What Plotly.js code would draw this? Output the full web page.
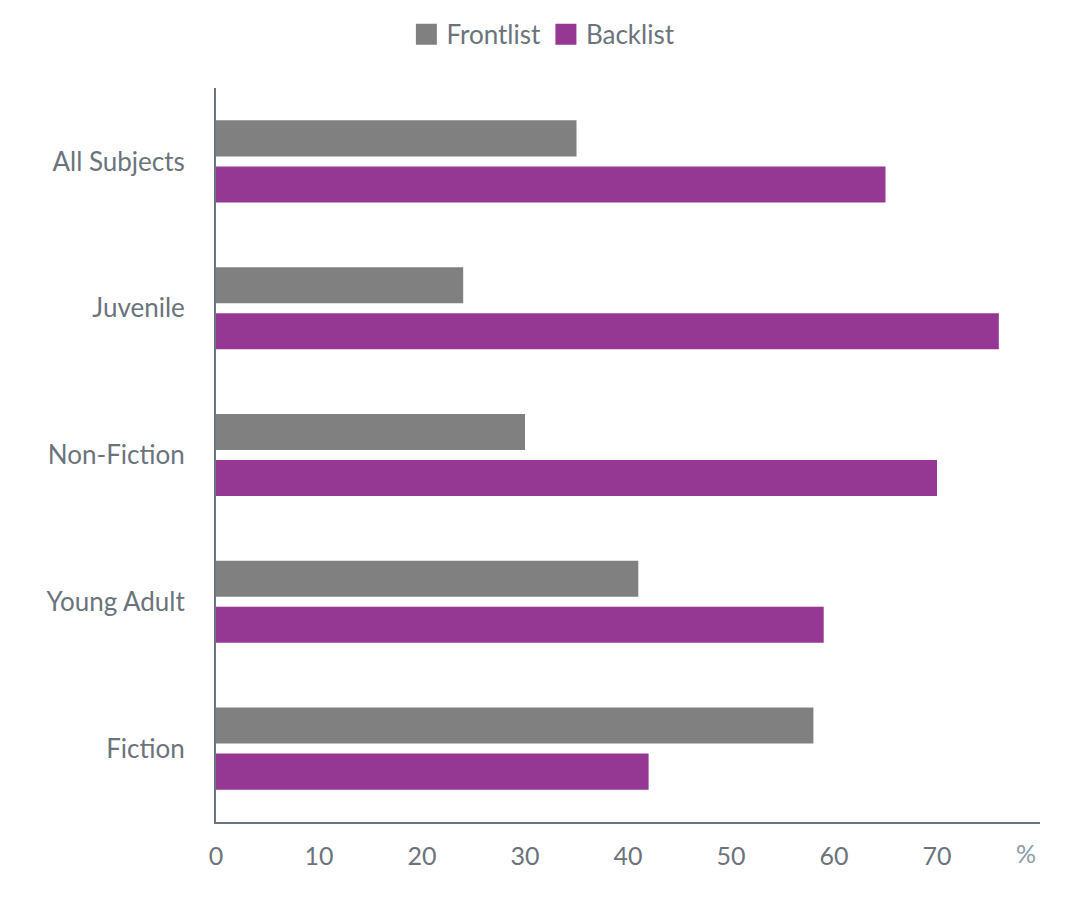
<!DOCTYPE html>
<html>
<head>
<meta charset="utf-8">
<script src="https://cdn.plot.ly/plotly-3.0.1.min.js"></script>
<style>
  html, body { margin: 0; padding: 0; background: #fff; }
  #chart { width: 1076px; height: 903px; }
</style>
</head>
<body>
<div id="chart"></div>
<script>
var subjects = ['All Subjects', 'Juvenile', 'Non-Fiction', 'Young Adult', 'Fiction'];
var frontlist = [35, 24, 30, 41, 58];
var backlist = [65, 76, 70, 59, 42];
var xTicks = [0, 10, 20, 30, 40, 50, 60, 70];

var textColor = '#6b737c';

var data = [
  {
    type: 'bar',
    orientation: 'h',
    name: 'Frontlist',
    y: subjects,
    x: frontlist,
    marker: { color: '#808080' },
    showlegend: false,
    hoverinfo: 'x+y'
  },
  {
    type: 'bar',
    orientation: 'h',
    name: 'Backlist',
    y: subjects,
    x: backlist,
    marker: { color: '#943894' },
    showlegend: false,
    hoverinfo: 'x+y'
  },
  // legend-only entries so the swatches come out bigger
  {
    type: 'scatter', mode: 'markers', name: 'Frontlist',
    x: [null], y: [null],
    marker: { symbol: 'square', size: 16, color: '#808080', line: { color: '#808080', width: 10 } }
  },
  {
    type: 'scatter', mode: 'markers', name: 'Backlist',
    x: [null], y: [null],
    marker: { symbol: 'square', size: 16, color: '#943894', line: { color: '#943894', width: 10 } }
  }
];

var layout = {
  width: 1076,
  height: 903,
  margin: { l: 216, r: 36, t: 88, b: 81 },
  paper_bgcolor: '#fff',
  plot_bgcolor: '#fff',
  font: { family: 'Lato, "Open Sans", sans-serif', size: 26, color: textColor },
  barmode: 'group',
  bargap: 0.373,
  bargroupgap: 0.217,
  showlegend: true,
  legend: {
    orientation: 'h',
    x: 0.505, xanchor: 'center', xref: 'container',
    y: 0.988, yanchor: 'top', yref: 'container',
    font: { size: 26, color: textColor },
    itemwidth: 30,
    traceorder: 'normal'
  },
  xaxis: {
    range: [0, 80],
    tickvals: xTicks,
    ticktext: xTicks.map(String),
    tickfont: { size: 25, color: textColor },
    showgrid: false,
    zeroline: false,
    showline: true,
    linecolor: textColor,
    linewidth: 2,
    ticks: '',
    ticklabelstandoff: 11,
    fixedrange: true
  },
  yaxis: {
    type: 'category',
    autorange: 'reversed',
    tickfont: { size: 26, color: textColor },
    showgrid: false,
    zeroline: false,
    showline: true,
    linecolor: textColor,
    linewidth: 2,
    ticks: '',
    ticklabelstandoff: 24,
    fixedrange: true
  },
  annotations: [
    {
      text: '%',
      xref: 'paper', yref: 'paper',
      x: 0.983, y: 0, yshift: -31,
      xanchor: 'center', yanchor: 'middle',
      showarrow: false,
      font: { size: 25, color: '#8c9bab' }
    }
  ]
};

Plotly.newPlot('chart', data, layout, { displayModeBar: false });
</script>
</body>
</html>
